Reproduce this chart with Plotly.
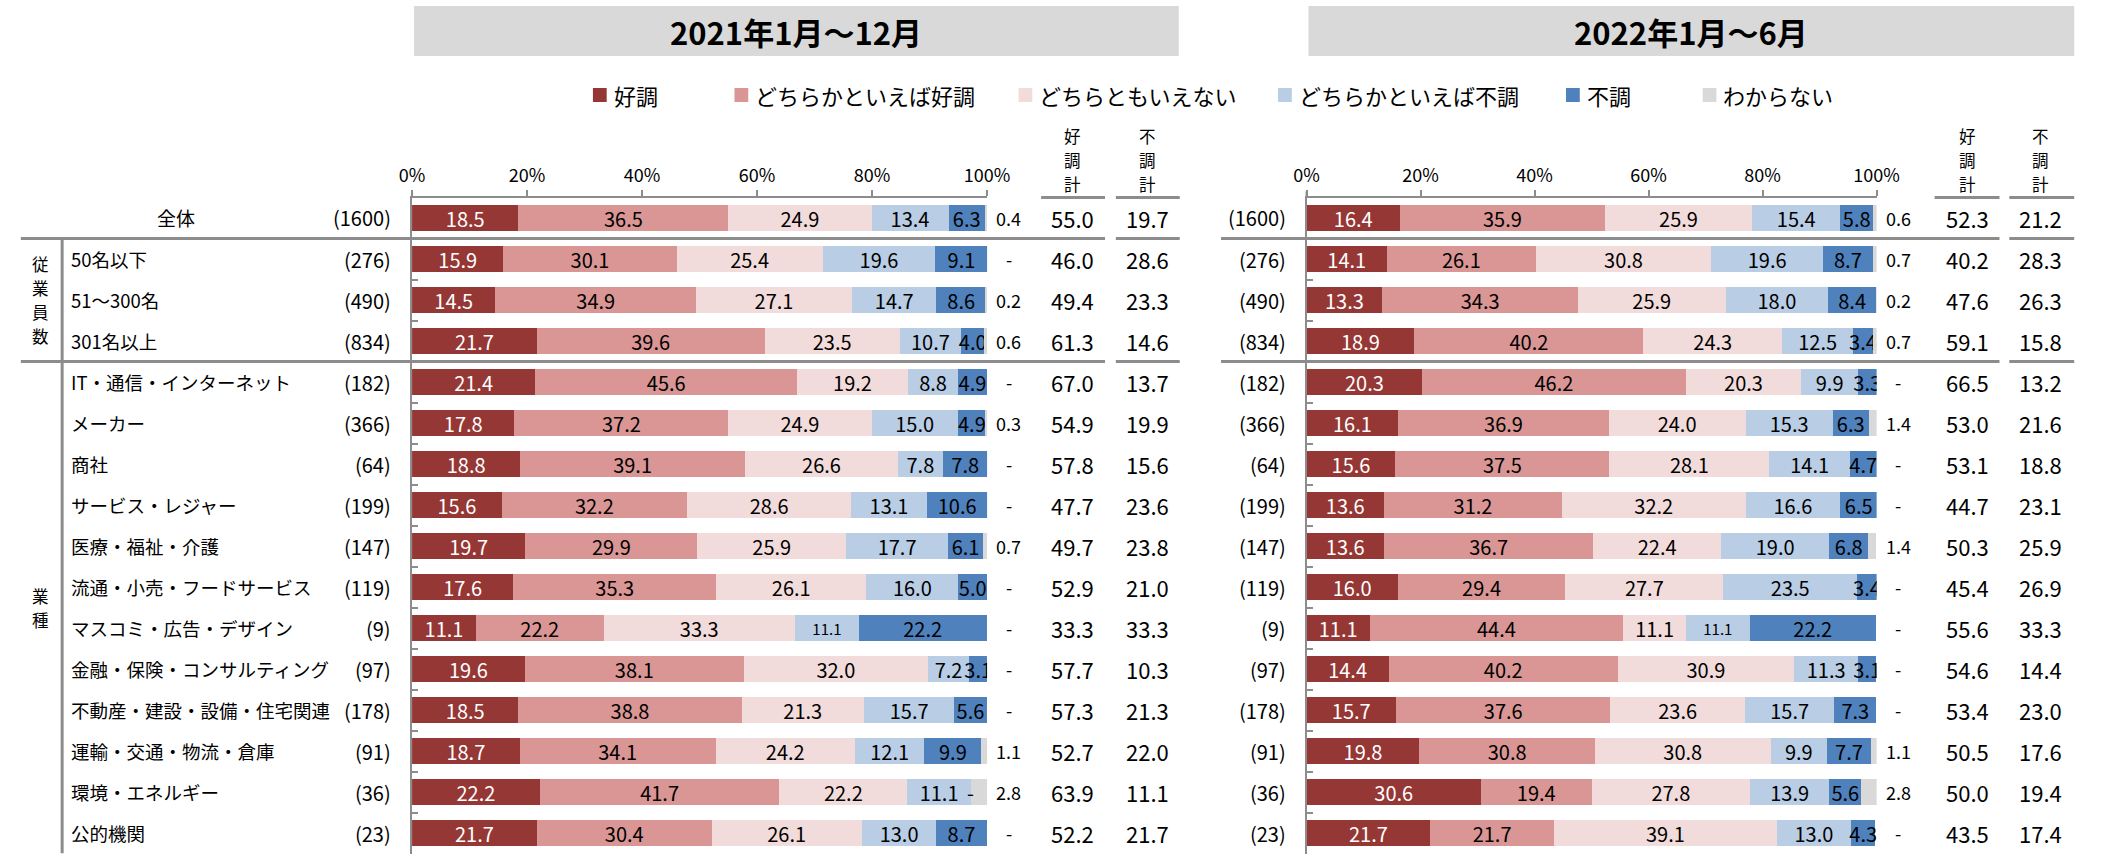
import plotly.graph_objects as go

# ---------------- data ----------------
rows = ["全体", "50名以下", "51〜300名", "301名以上",
        "IT・通信・インターネット", "メーカー", "商社", "サービス・レジャー",
        "医療・福祉・介護", "流通・小売・フードサービス", "マスコミ・広告・デザイン",
        "金融・保険・コンサルティング", "不動産・建設・設備・住宅関連",
        "運輸・交通・物流・倉庫", "環境・エネルギー", "公的機関"]
counts = [1600, 276, 490, 834, 182, 366, 64, 199, 147, 119, 9, 97, 178, 91, 36, 23]

series_names = ["好調", "どちらかといえば好調", "どちらともいえない",
                "どちらかといえば不調", "不調", "わからない"]

period_titles = ["2021年1月〜12月", "2022年1月〜6月"]
column_heads = ["好調計", "不調計"]
group_labels = ["従業員数", "業種"]

good_2021 = [18.5, 15.9, 14.5, 21.7, 21.4, 17.8, 18.8, 15.6, 19.7, 17.6, 11.1, 19.6, 18.5, 18.7, 22.2, 21.7]
rgood_2021 = [36.5, 30.1, 34.9, 39.6, 45.6, 37.2, 39.1, 32.2, 29.9, 35.3, 22.2, 38.1, 38.8, 34.1, 41.7, 30.4]
neutral_2021 = [24.9, 25.4, 27.1, 23.5, 19.2, 24.9, 26.6, 28.6, 25.9, 26.1, 33.3, 32.0, 21.3, 24.2, 22.2, 26.1]
rbad_2021 = [13.4, 19.6, 14.7, 10.7, 8.8, 15.0, 7.8, 13.1, 17.7, 16.0, 11.1, 7.2, 15.7, 12.1, 11.1, 13.0]
bad_2021 = [6.3, 9.1, 8.6, 4.0, 4.9, 4.9, 7.8, 10.6, 6.1, 5.0, 22.2, 3.1, 5.6, 9.9, 0.0, 8.7]
dk_2021 = [0.4, 0.0, 0.2, 0.6, 0.0, 0.3, 0.0, 0.0, 0.7, 0.0, 0.0, 0.0, 0.0, 1.1, 2.8, 0.0]
good_total_2021 = [55.0, 46.0, 49.4, 61.3, 67.0, 54.9, 57.8, 47.7, 49.7, 52.9, 33.3, 57.7, 57.3, 52.7, 63.9, 52.2]
bad_total_2021 = [19.7, 28.6, 23.3, 14.6, 13.7, 19.9, 15.6, 23.6, 23.8, 21.0, 33.3, 10.3, 21.3, 22.0, 11.1, 21.7]

good_2022 = [16.4, 14.1, 13.3, 18.9, 20.3, 16.1, 15.6, 13.6, 13.6, 16.0, 11.1, 14.4, 15.7, 19.8, 30.6, 21.7]
rgood_2022 = [35.9, 26.1, 34.3, 40.2, 46.2, 36.9, 37.5, 31.2, 36.7, 29.4, 44.4, 40.2, 37.6, 30.8, 19.4, 21.7]
neutral_2022 = [25.9, 30.8, 25.9, 24.3, 20.3, 24.0, 28.1, 32.2, 22.4, 27.7, 11.1, 30.9, 23.6, 30.8, 27.8, 39.1]
rbad_2022 = [15.4, 19.6, 18.0, 12.5, 9.9, 15.3, 14.1, 16.6, 19.0, 23.5, 11.1, 11.3, 15.7, 9.9, 13.9, 13.0]
bad_2022 = [5.8, 8.7, 8.4, 3.4, 3.3, 6.3, 4.7, 6.5, 6.8, 3.4, 22.2, 3.1, 7.3, 7.7, 5.6, 4.3]
dk_2022 = [0.6, 0.7, 0.2, 0.7, 0.0, 1.4, 0.0, 0.0, 1.4, 0.0, 0.0, 0.0, 0.0, 1.1, 2.8, 0.0]
good_total_2022 = [52.3, 40.2, 47.6, 59.1, 66.5, 53.0, 53.1, 44.7, 50.3, 45.4, 55.6, 54.6, 53.4, 50.5, 50.0, 43.5]
bad_total_2022 = [21.2, 28.3, 26.3, 15.8, 13.2, 21.6, 18.8, 23.1, 25.9, 26.9, 33.3, 14.4, 23.0, 17.6, 19.4, 17.4]

tick_vals = [0, 20, 40, 60, 80, 100]
tick_text = ["0%", "20%", "40%", "60%", "80%", "100%"]

# ---------------- styling ----------------
colors = ["#953735", "#D99694", "#F2DCDB", "#B9CDE5", "#4F81BD", "#D9D9D9"]
text_colors = ["#FFFFFF", "#000000", "#000000", "#000000", "#000000", "#000000"]
FONT = "Noto Sans CJK JP"
GRAY = "#8C8C8C"
W, H = 2109, 854
V_GLYPH, V_PITCH = 16.5, 24   # vertical (tate-gaki) label glyph size and line pitch


def px(x):
    return x / W


def py(y):
    return 1 - y / H


def fmt(v):
    return "-" if v == 0 else f"{v:.1f}"


def note(x, y, text, size, xref="paper", yref="paper", xanchor="center", color="#000", **kw):
    d = dict(x=x, y=y, xref=xref, yref=yref, text=text, showarrow=False,
             xanchor=xanchor, yanchor="middle",
             font=dict(family=FONT, size=size, color=color))
    d.update(kw)
    return d


def vertical_text(s):
    """Upright characters stacked top-to-bottom (tate-gaki)."""
    return "<br>".join(f"<span style='font-size:{V_GLYPH}px'>{ch}</span>" for ch in s)


PLOT_TOP, PLOT_BOTTOM = 197.5, 853.5
panels = [
    dict(xa="x", ya="y", x0=406, x1=991, box=(408, 1186), nright=387,
         sums=(1078, 1154), under=((1046, 1111), (1122, 1187)),
         data=[good_2021, rgood_2021, neutral_2021, rbad_2021, bad_2021, dk_2021],
         tot=(good_total_2021, bad_total_2021)),
    dict(xa="x2", ya="y2", x0=1316, x1=1896, box=(1318, 2097), nright=1297,
         sums=(1988, 2063), under=((1955, 2021), (2031, 2097)),
         data=[good_2022, rgood_2022, neutral_2022, rbad_2022, bad_2022, dk_2022],
         tot=(good_total_2022, bad_total_2022)),
]

fig = go.Figure()
annotations = []
shapes = []

for p_i, p in enumerate(panels):
    data = p["data"]
    for s_i, vals in enumerate(data):
        if s_i == 5:
            texts = None
            tpos = "none"
        else:
            texts = ["" if v == 0 else f"{v:.1f}" for v in vals]
            tpos = "inside"
        sizes = [15 if (r == "マスコミ・広告・デザイン" and s_i == 3) else 20 for r in rows]
        fig.add_trace(go.Bar(
            y=rows, x=vals, orientation="h", name=series_names[s_i],
            marker=dict(color=colors[s_i], line=dict(width=0)),
            text=texts, textposition=tpos, insidetextanchor="middle",
            textangle=0, constraintext="none",
            textfont=dict(family=FONT, size=sizes, color=text_colors[s_i]),
            xaxis=p["xa"], yaxis=p["ya"], showlegend=False,
            hovertemplate="%{y}<br>" + series_names[s_i] + ": %{x}<extra></extra>",
        ))
    # position (paper) of the "わからない" label column, just right of 100%
    dk_x = px(p["x0"] + 1.038 * (p["x1"] - p["x0"]))
    for r_i in range(len(rows)):
        # zero-valued segments inside bars -> "-"
        cum = 0.0
        for s_i in range(5):
            v = data[s_i][r_i]
            if v == 0:
                annotations.append(note(cum, r_i, "-", 20, xref=p["xa"], yref=p["ya"]))
            cum += v
        # わからない outside label
        annotations.append(note(dk_x, r_i, fmt(data[5][r_i]), 18, yref=p["ya"]))
        # totals
        for c_i in range(2):
            annotations.append(note(px(p["sums"][c_i]), r_i, f"{p['tot'][c_i][r_i]:.1f}", 22,
                                    yref=p["ya"]))
        # counts
        annotations.append(note(px(p["nright"]), r_i, f"({counts[r_i]})", 20,
                                yref=p["ya"], xanchor="right"))
    # title box
    shapes.append(dict(type="rect", xref="paper", yref="paper",
                       x0=px(p["box"][0]), x1=px(p["box"][1]), y0=py(56), y1=py(6),
                       fillcolor="#D9D9D9", line=dict(width=0), layer="below"))
    annotations.append(note(px((p["box"][0] + p["box"][1]) / 2), py(31),
                            "<b>" + period_titles[p_i] + "</b>", 31))
    # column headers (vertical text): base size sets the line pitch (1.3 x size)
    for c_i, head in enumerate(column_heads):
        annotations.append(note(px(p["sums"][c_i]), py(160), vertical_text(head),
                                V_PITCH / 1.3))
        u0, u1 = p["under"][c_i]
        shapes.append(dict(type="line", xref="paper", yref="paper",
                           x0=px(u0), x1=px(u1), y0=py(PLOT_TOP), y1=py(PLOT_TOP),
                           line=dict(color=GRAY, width=3)))
    # y-axis line continues a little above the top axis
    shapes.append(dict(type="line", xref="paper", yref="paper",
                       x0=px(p["x0"]), x1=px(p["x0"]), y0=py(PLOT_TOP), y1=py(PLOT_TOP - 6),
                       line=dict(color=GRAY, width=2)))

# row labels on the left
for r_i, r in enumerate(rows):
    if r_i == 0:
        annotations.append(note(px(166), r_i, r, 19, yref="y"))
    else:
        annotations.append(note(px(57), r_i, r, 18.5, yref="y", xanchor="left"))

# group labels (vertical), centred on their row groups
grp_rows = [2, 9.5]
for g_i, g in enumerate(group_labels):
    annotations.append(note(px(28), grp_rows[g_i], vertical_text(g), V_PITCH / 1.3, yref="y"))

# separators
for b in [0.5, 3.5]:
    for (a0, a1) in [(8, 1111), (1122, 1187), (1229, 2021), (2031, 2097)]:
        shapes.append(dict(type="line", xref="paper", yref="y", x0=px(a0), x1=px(a1),
                           y0=b, y1=b, line=dict(color=GRAY, width=3)))
shapes.append(dict(type="line", xref="paper", yref="y", x0=px(50), x1=px(50),
                   y0=0.5, y1=15.5, line=dict(color=GRAY, width=3)))

# manual legend
legend_x = [590, 734, 1023, 1287, 1580, 1719]
for s_i, lx in enumerate(legend_x):
    shapes.append(dict(type="rect", xref="paper", yref="paper",
                       x0=px(lx), x1=px(lx + 14), y0=py(102), y1=py(88),
                       fillcolor=colors[s_i], line=dict(width=0)))
    annotations.append(note(px(lx + 19), py(95), series_names[s_i], 22, xanchor="left"))

ydom = [py(PLOT_BOTTOM), py(PLOT_TOP)]
xaxis_common = dict(side="top", range=[0, 100], tickvals=tick_vals, ticktext=tick_text,
                    showline=True, linecolor=GRAY, linewidth=2, ticks="outside",
                    ticklen=6, tickwidth=2, tickcolor=GRAY, showgrid=False, zeroline=False,
                    tickfont=dict(family=FONT, size=18, color="#000"), fixedrange=True)
yaxis_common = dict(type="category", categoryorder="array", categoryarray=rows,
                    range=[15.5, -0.5], domain=ydom, showline=True, linecolor=GRAY,
                    linewidth=2, ticks="inside", tickson="boundaries", ticklen=6,
                    tickwidth=2, tickcolor=GRAY, showticklabels=False, showgrid=False,
                    zeroline=False, fixedrange=True)

fig.update_layout(
    width=W, height=H, margin=dict(l=0, r=0, t=0, b=0),
    paper_bgcolor="white", plot_bgcolor="white",
    barmode="stack", bargap=0.366, showlegend=False,
    font=dict(family=FONT, color="#000"),
    xaxis=dict(domain=[px(406), px(991)], anchor="y", **xaxis_common),
    xaxis2=dict(domain=[px(1316), px(1896)], anchor="y2", **xaxis_common),
    yaxis=dict(anchor="x", **yaxis_common),
    yaxis2=dict(anchor="x2", **yaxis_common),
    annotations=annotations, shapes=shapes,
)

fig.write_html("out.html", config={"displayModeBar": False},
               post_script="document.body.style.margin='0';document.body.style.overflow='hidden';")
